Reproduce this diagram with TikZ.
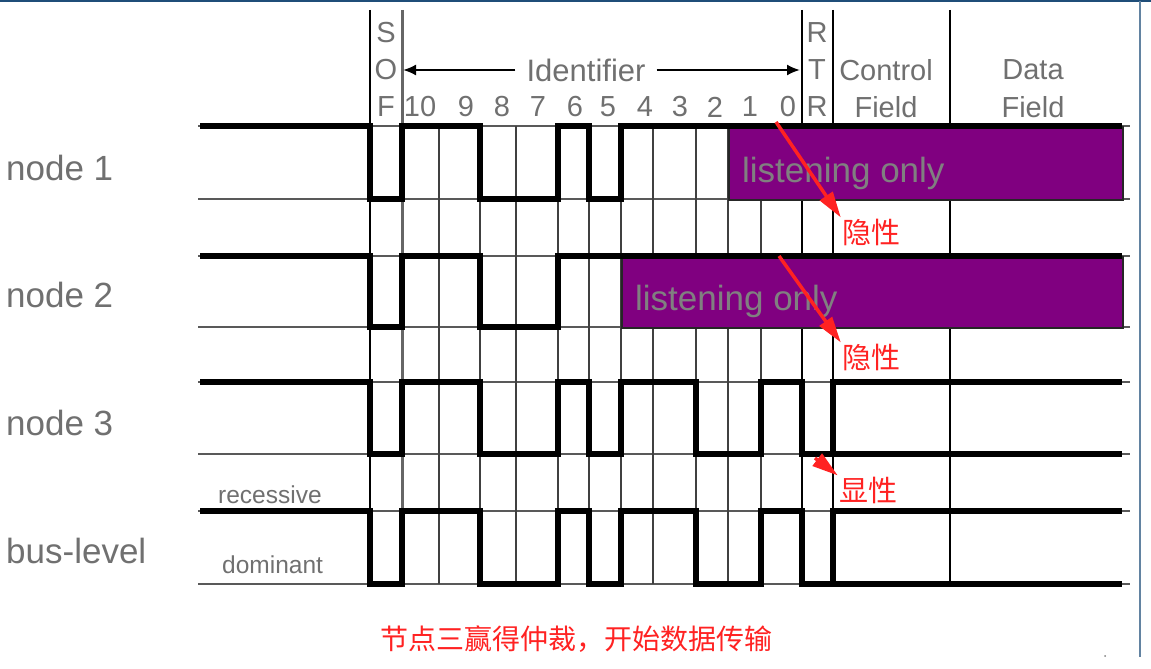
\documentclass[tikz,border=0pt]{standalone}
\usepackage{fontspec}
\setmainfont{Liberation Sans}
\newfontfamily\cjk{Noto Sans CJK SC}
\usetikzlibrary{arrows.meta, positioning}

\definecolor{txtgray}{HTML}{707070}
\definecolor{listenpurple}{HTML}{800080}
\definecolor{markred}{HTML}{FF2222}
\definecolor{framebl}{HTML}{1F4E79}

\begin{document}
\begin{tikzpicture}[
    x=1pt, y=-1pt,
    hdrtxt/.style={text=txtgray, font=\fontsize{29}{29}\selectfont, inner sep=0pt},
    rowlabel/.style={text=txtgray, font=\fontsize{35}{35}\selectfont, inner sep=0pt, anchor=base west},
    levellabel/.style={text=txtgray, font=\fontsize{24.5}{24.5}\selectfont, inner sep=0pt, anchor=base west},
    listenbox/.style={draw=black!85, fill=listenpurple, line width=1.5pt, anchor=north west, inner sep=0pt},
    listentext/.style={text=gray, font=\fontsize{35}{35}\selectfont, inner sep=0pt, anchor=base west},
    wave/.style={line width=5.5pt, black, line join=miter},
    refline/.style={line width=1.3pt, black!65},
    gridline/.style={line width=1.5pt, black!75},
    cntext/.style={text=markred, font=\cjk\fontsize{29}{29}\selectfont, inner sep=1pt},
    redarrow/.style={-{Triangle[length=26pt, width=15pt]}, line width=3.5pt, markred},
    idarrow/.style={-{Latex[length=13pt, width=11pt]}, line width=2pt, black}
]
\useasboundingbox (0,0) rectangle (1151,669);

% frame of the slide
\draw[framebl, line width=2pt] (0,1) -- (1151,1);
\draw[framebl!70, line width=1.5pt] (1140,1) -- (1140,657);
\fill[black!50] (1105,656) circle (1pt);

% level lines
\foreach \y in {126,199,256,327,382,454,511,584}
  \draw[refline] (198,\y) -- (1130,\y);

% bit boundaries
\foreach \x in {439,480,516,558,589,621,653,696,728,761}
  \draw[gridline] (\x,126) -- (\x,584);
\foreach \x in {370,802,833,950}
  \draw[gridline, line width=2pt, black] (\x,10) -- (\x,584);
\draw[gridline, line width=3pt, black!60] (402,10) -- (402,584);

% header
\foreach \ch/\y in {S/33, O/70, F/107}
  \node[hdrtxt] (sof\ch) at (386,\y) {\ch};
\foreach \ch/\y/\n in {R/33/a, T/70/b, R/107/c}
  \node[hdrtxt] (rtr\n) at (817,\y) {\ch};
\foreach \b/\x in {10/420, 9/466, 8/502, 7/538, 6/575, 5/608, 4/645, 3/680, 2/715, 1/750, 0/788}
  \node[hdrtxt] (bit\b) at (\x,107) {\b};
\node[hdrtxt, font=\fontsize{31}{31}\selectfont, inner xsep=11pt] (ident) at (586,70) {Identifier};
\coordinate (idleft) at (403,70);
\coordinate (idright) at (800,70);
\draw[idarrow] (ident) -- (idleft);
\draw[idarrow] (ident) -- (idright);
\node[hdrtxt] (ctrl) at (886,70) {Control};
\node[hdrtxt] (ctrlfield) at (886,107) {Field};
\node[hdrtxt] (data) at (1033,70) {Data};
\node[hdrtxt] (datafield) at (1033,107) {Field};

% row names
\node[rowlabel] (node1) at (6,180) {node 1};
\node[rowlabel] (node2) at (6,307) {node 2};
\node[rowlabel] (node3) at (6,435) {node 3};
\node[rowlabel] (bus) at (6,563) {bus-level};
\node[levellabel] (recessive) at (218,503) {recessive};
\node[levellabel] (dominant) at (222,573) {dominant};

% nodes that lost arbitration
\node[listenbox, minimum width=394pt, minimum height=73pt] (listen1) at (728,126) {};
\node[listentext] (listen1txt) at (742,182) {listening only};
\node[listenbox, minimum width=501pt, minimum height=71pt] (listen2) at (621,256) {};
\node[listentext] (listen2txt) at (635,310) {listening only};

% waveforms
\draw[wave] (200,126) -- (370,126) -- (370,199) -- (402,199) -- (402,126) -- (480,126)
  -- (480,199) -- (558,199) -- (558,126) -- (589,126) -- (589,199) -- (621,199)
  -- (621,126) -- (1122,126);
\draw[wave] (200,256) -- (370,256) -- (370,327) -- (402,327) -- (402,256) -- (480,256)
  -- (480,327) -- (558,327) -- (558,256) -- (1122,256);
\foreach \hi/\lo in {382/454, 511/584} {
  \draw[wave] (200,\hi) -- (370,\hi) -- (370,\lo) -- (402,\lo) -- (402,\hi) -- (480,\hi)
    -- (480,\lo) -- (558,\lo) -- (558,\hi) -- (589,\hi) -- (589,\lo) -- (621,\lo)
    -- (621,\hi) -- (696,\hi) -- (696,\lo) -- (761,\lo) -- (761,\hi) -- (802,\hi)
    -- (802,\lo) -- (833,\lo) -- (833,\hi) -- (1122,\hi);
  \draw[wave] (833,\lo) -- (1122,\lo);
}

% notes
\node[cntext] (rec1) at (871,232) {隐性};
\node[cntext] (rec2) at (871,357) {隐性};
\node[cntext] (dom3) at (868,490) {显性};
\coordinate (rec1src) at (776,122);
\coordinate (rec2src) at (779,256);
\coordinate (dom3src) at (815,458);
\draw[redarrow] (rec1src) -- (rec1.north west);
\draw[redarrow] (rec2src) -- (rec2.north west);
\draw[redarrow] (dom3src) -- (dom3.north west);
\node[cntext, font=\cjk\fontsize{28}{28}\selectfont] (result) at (576,639) {节点三赢得仲裁，开始数据传输};

\end{tikzpicture}
\end{document}
